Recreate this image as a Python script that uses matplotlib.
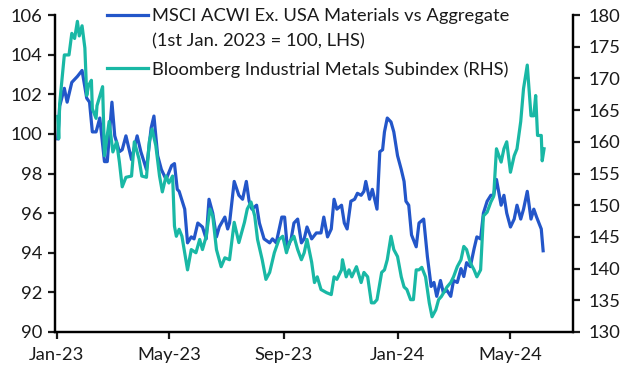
import matplotlib
matplotlib.use("Agg")
import matplotlib.pyplot as plt
import matplotlib.dates as mdates
from matplotlib.lines import Line2D
import pandas as pd

# MSCI ACWI Ex. USA Materials vs Aggregate (왼쪽 축)
msci_dates = [
    "2023-01-02", "2023-01-04", "2023-01-09", "2023-01-12", "2023-01-17", "2023-01-23",
    "2023-01-28", "2023-02-02", "2023-02-05", "2023-02-08", "2023-02-12", "2023-02-16",
    "2023-02-21", "2023-02-24", "2023-03-01", "2023-03-04", "2023-03-09", "2023-03-12",
    "2023-03-16", "2023-03-22", "2023-03-28", "2023-04-01", "2023-04-07", "2023-04-12",
    "2023-04-15", "2023-04-19", "2023-04-23", "2023-04-28", "2023-05-04", "2023-05-07",
    "2023-05-10", "2023-05-12", "2023-05-18", "2023-05-21", "2023-05-25", "2023-05-28",
    "2023-06-01", "2023-06-06", "2023-06-10", "2023-06-13", "2023-06-17", "2023-06-21",
    "2023-06-24", "2023-06-30", "2023-07-03", "2023-07-05", "2023-07-10", "2023-07-15",
    "2023-07-19", "2023-07-23", "2023-07-26", "2023-07-29", "2023-08-03", "2023-08-06",
    "2023-08-11", "2023-08-17", "2023-08-20", "2023-08-24", "2023-08-30", "2023-09-02",
    "2023-09-05", "2023-09-09", "2023-09-12", "2023-09-16", "2023-09-20", "2023-09-23",
    "2023-09-26", "2023-10-01", "2023-10-06", "2023-10-11", "2023-10-14", "2023-10-18",
    "2023-10-22", "2023-10-25", "2023-10-28", "2023-11-02", "2023-11-05", "2023-11-08",
    "2023-11-12", "2023-11-16", "2023-11-19", "2023-11-23", "2023-11-26", "2023-11-28",
    "2023-12-02", "2023-12-05", "2023-12-10", "2023-12-13", "2023-12-16", "2023-12-18",
    "2023-12-21", "2023-12-25", "2023-12-28", "2024-01-01", "2024-01-05", "2024-01-08",
    "2024-01-10", "2024-01-13", "2024-01-16", "2024-01-21", "2024-01-24", "2024-01-29",
    "2024-02-02", "2024-02-06", "2024-02-09", "2024-02-12", "2024-02-16", "2024-02-19",
    "2024-02-23", "2024-02-27", "2024-03-01", "2024-03-05", "2024-03-09", "2024-03-12",
    "2024-03-15", "2024-03-19", "2024-03-23", "2024-03-26", "2024-03-30", "2024-04-02",
    "2024-04-06", "2024-04-10", "2024-04-13", "2024-04-16", "2024-04-21", "2024-04-24",
    "2024-04-27", "2024-05-01", "2024-05-05", "2024-05-08", "2024-05-12", "2024-05-15",
    "2024-05-19", "2024-05-23", "2024-05-26", "2024-05-29", "2024-06-03", "2024-06-05",
]
msci_values = [
    99.75, 101.4, 102.3, 101.6, 102.6, 102.9,
    103.2, 101.8, 101.6, 100.1, 100.1, 100.8,
    98.6, 98.6, 101.6, 99.9, 99.1, 99.2,
    99.9, 98.7, 99.9, 99.1, 98.2, 100.3,
    100.9, 98.9, 98.2, 97.7, 98.4, 98.5,
    97.2, 97.1, 96.2, 94.5, 94.8, 94.7,
    95.5, 95.3, 94.7, 96.7, 96.0, 94.8,
    95.3, 95.8, 95.2, 95.5, 97.6, 96.9,
    96.7, 97.6, 96.6, 96.2, 96.4, 95.5,
    94.7, 94.5, 94.7, 94.5, 95.8, 95.8,
    94.2, 94.7, 95.5, 95.7, 94.5, 94.7,
    95.3, 94.7, 95.0, 95.0, 95.8, 94.8,
    95.2, 96.7, 96.2, 96.4, 95.5, 95.2,
    96.6, 96.7, 97.0, 96.9, 97.1, 97.6,
    96.7, 97.2, 96.2, 99.1, 99.2, 100.1,
    100.8, 100.6, 100.1, 98.9, 98.2, 97.6,
    96.6, 96.4, 94.9, 94.3, 95.5, 95.7,
    93.8, 92.3, 92.5, 91.8, 92.6, 92.0,
    92.1, 91.8, 92.6, 92.5, 93.2, 92.8,
    93.5, 93.3, 94.2, 94.8, 94.7, 96.0,
    96.6, 96.9, 96.9, 97.7, 96.4, 96.9,
    96.0, 95.3, 95.7, 96.4, 95.7, 96.2,
    97.1, 95.7, 96.2, 95.8, 95.2, 94.1,
]

# Bloomberg Industrial Metals Subindex (오른쪽 축)
metals_dates = [
    "2023-01-02", "2023-01-03", "2023-01-04", "2023-01-09", "2023-01-14", "2023-01-17",
    "2023-01-20", "2023-01-23", "2023-01-25", "2023-01-28", "2023-01-31", "2023-02-02",
    "2023-02-04", "2023-02-07", "2023-02-08", "2023-02-12", "2023-02-13", "2023-02-19",
    "2023-02-21", "2023-02-26", "2023-03-02", "2023-03-06", "2023-03-09", "2023-03-12",
    "2023-03-16", "2023-03-22", "2023-03-25", "2023-03-30", "2023-04-02", "2023-04-07",
    "2023-04-10", "2023-04-13", "2023-04-17", "2023-04-21", "2023-04-24", "2023-04-28",
    "2023-05-01", "2023-05-05", "2023-05-07", "2023-05-09", "2023-05-12", "2023-05-15",
    "2023-05-21", "2023-05-25", "2023-05-30", "2023-06-03", "2023-06-06", "2023-06-10",
    "2023-06-14", "2023-06-17", "2023-06-21", "2023-06-26", "2023-06-30", "2023-07-05",
    "2023-07-10", "2023-07-15", "2023-07-21", "2023-07-24", "2023-07-28", "2023-08-01",
    "2023-08-04", "2023-08-09", "2023-08-13", "2023-08-17", "2023-08-22", "2023-08-27",
    "2023-08-31", "2023-09-04", "2023-09-07", "2023-09-12", "2023-09-16", "2023-09-20",
    "2023-09-23", "2023-09-26", "2023-10-01", "2023-10-04", "2023-10-07", "2023-10-11",
    "2023-10-17", "2023-10-22", "2023-10-25", "2023-10-28", "2023-11-02", "2023-11-03",
    "2023-11-07", "2023-11-10", "2023-11-13", "2023-11-18", "2023-11-23", "2023-11-26",
    "2023-11-30", "2023-12-04", "2023-12-07", "2023-12-10", "2023-12-15", "2023-12-18",
    "2023-12-21", "2023-12-25", "2023-12-28", "2024-01-01", "2024-01-05", "2024-01-08",
    "2024-01-11", "2024-01-15", "2024-01-18", "2024-01-21", "2024-01-24", "2024-01-27",
    "2024-01-31", "2024-02-04", "2024-02-07", "2024-02-11", "2024-02-14", "2024-02-17",
    "2024-02-23", "2024-02-27", "2024-03-01", "2024-03-05", "2024-03-09", "2024-03-12",
    "2024-03-15", "2024-03-19", "2024-03-23", "2024-03-26", "2024-03-30", "2024-04-02",
    "2024-04-06", "2024-04-10", "2024-04-13", "2024-04-16", "2024-04-21", "2024-04-24",
    "2024-04-27", "2024-05-01", "2024-05-05", "2024-05-08", "2024-05-12", "2024-05-15",
    "2024-05-19", "2024-05-23", "2024-05-26", "2024-05-28", "2024-05-30", "2024-06-03",
    "2024-06-04", "2024-06-06",
]
metals_values = [
    164.0, 160.5, 166.0, 173.7, 173.7, 177.1,
    176.3, 179.0, 176.7, 178.3, 174.8, 167.3,
    168.9, 169.7, 165.2, 163.7, 165.7, 168.7,
    157.8, 163.2, 158.4, 160.0, 156.8, 152.9,
    154.4, 154.6, 160.0, 157.3, 154.6, 154.4,
    160.0, 162.0, 159.4, 154.6, 152.1, 154.6,
    153.5, 154.6, 146.7, 145.1, 146.2, 145.1,
    139.8, 143.0, 142.5, 144.6, 143.0, 145.1,
    149.4, 148.3, 143.0, 140.3, 141.7, 141.4,
    147.3, 144.1, 147.3, 149.4, 150.5, 148.3,
    144.6, 141.4, 138.3, 139.4, 142.5, 144.6,
    145.1, 142.5, 144.1, 145.1, 143.0, 141.4,
    142.5, 144.6, 141.0, 137.8, 138.7, 136.7,
    136.2, 135.9, 138.7, 138.3, 139.8, 141.4,
    138.7, 139.8, 138.7, 140.3, 137.8, 139.4,
    138.7, 134.6, 134.6, 135.1, 139.4, 139.8,
    141.4, 145.1, 143.0, 141.9, 138.7, 137.1,
    136.7, 135.1, 135.1, 139.8, 139.8, 140.2,
    138.7, 134.6, 132.4, 133.5, 135.1, 135.6,
    137.1, 137.8, 138.7, 140.3, 141.4, 143.5,
    143.0, 140.9, 139.8, 138.7, 139.8, 148.3,
    148.9, 150.5, 151.4, 158.9, 156.8, 158.9,
    160.0, 155.2, 157.8, 158.9, 163.2, 168.4,
    172.1, 164.1, 164.1, 167.3, 161.0, 161.0,
    157.0, 158.9,
]

label_msci = ["MSCI ACWI Ex. USA Materials vs Aggregate", "(1st Jan. 2023 = 100, LHS)"]
label_metals = "Bloomberg Industrial Metals Subindex (RHS)"
left_ticks = [90, 92, 94, 96, 98, 100, 102, 104, 106]
right_ticks = [130, 135, 140, 145, 150, 155, 160, 165, 170, 175, 180]

plt.rcParams["font.family"] = ["Lato", "DejaVu Sans"]
fs = 13.2
txt_color = "#1a1a1a"

blue = "#2356C9"
teal = "#19B8A5"

fig = plt.figure(figsize=(6.33, 3.8), dpi=100)
ax = fig.add_axes([55 / 633, 1 - 332 / 380, (573 - 55) / 633, (332 - 15) / 380])
ax2 = ax.twinx()

# 두 계열 그리기
ax.plot(pd.to_datetime(msci_dates), msci_values, color=blue, lw=2.3)
ax2.plot(pd.to_datetime(metals_dates), metals_values, color=teal, lw=2.3)

ax.set_xlim(pd.Timestamp("2022-12-30"), pd.Timestamp("2024-07-07"))
ax.set_ylim(90, 106)
ax.set_yticks(left_ticks)
ax2.set_ylim(130, 180)
ax2.set_yticks(right_ticks)

ax.xaxis.set_major_locator(mdates.MonthLocator(bymonth=[1, 5, 9]))
ax.xaxis.set_major_formatter(mdates.DateFormatter("%b-%y"))

# 축 스타일
for a in (ax, ax2):
    a.spines["top"].set_visible(False)
    for s in ("left", "right", "bottom"):
        a.spines[s].set_linewidth(1.6)
        a.spines[s].set_color("black")
    a.tick_params(direction="out", length=5, width=1.6, colors=txt_color, labelsize=fs)
ax.tick_params(axis="x", pad=6)
ax.tick_params(axis="y", pad=4)
ax2.tick_params(axis="y", pad=6)

# 범례 (직접 배치)
x0, x1, xt = 107 / 633, 148 / 633, 152 / 633
y_rows = [1 - 15 / 380, 1 - 40 / 380, 1 - 68 / 380]
fig.add_artist(Line2D([x0, x1], [y_rows[0]] * 2, color=blue, lw=2.3, transform=fig.transFigure))
fig.add_artist(Line2D([x0, x1], [y_rows[2]] * 2, color=teal, lw=2.3, transform=fig.transFigure))
fig.text(xt, y_rows[0], label_msci[0], fontsize=fs, color=txt_color, va="center_baseline")
fig.text(xt, y_rows[1], label_msci[1], fontsize=fs, color=txt_color, va="center_baseline")
fig.text(xt, y_rows[2], label_metals, fontsize=fs, color=txt_color, va="center_baseline")

plt.savefig("out.png", dpi=100)
